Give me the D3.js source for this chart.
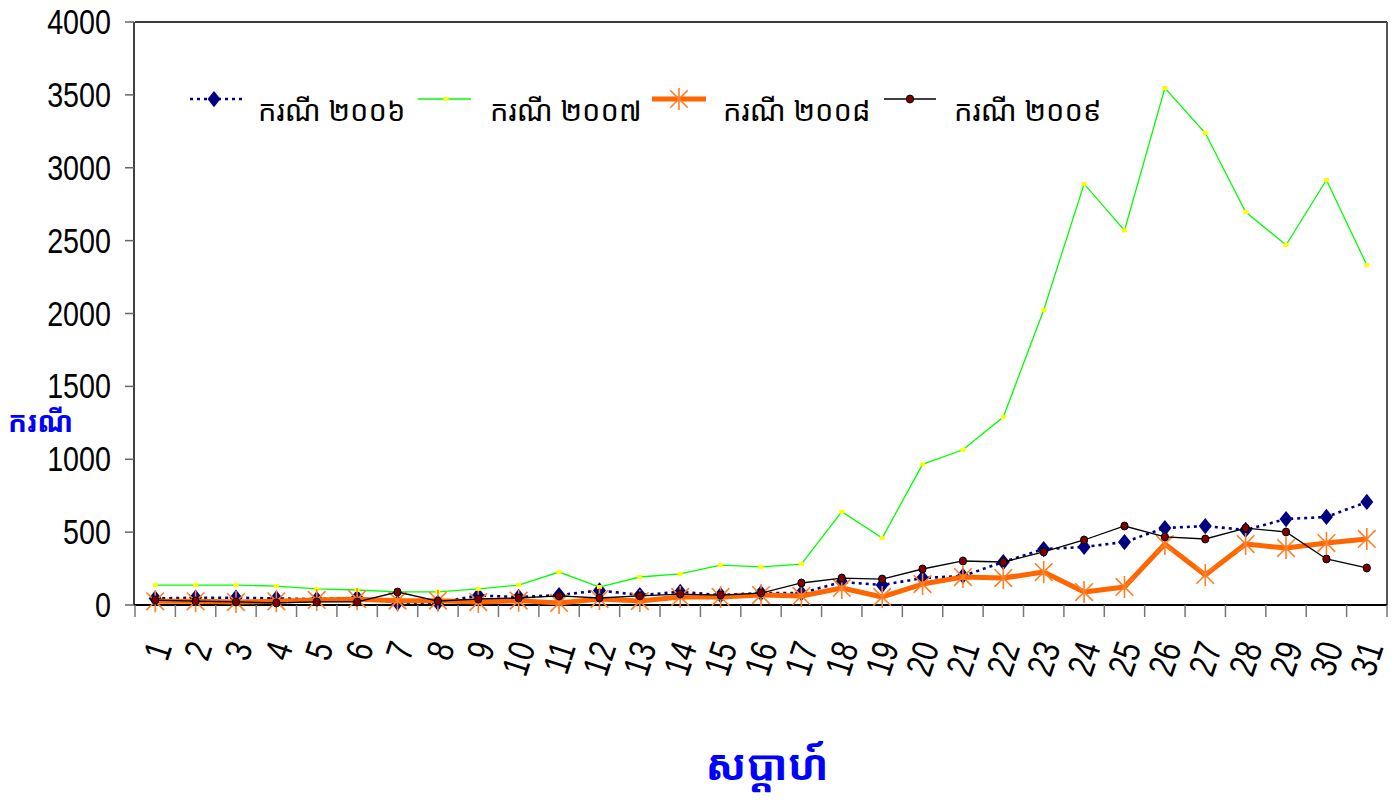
<!DOCTYPE html>
<html>
<head>
<meta charset="utf-8">
<script src="https://cdn.jsdelivr.net/npm/d3@7"></script>
<style>
  html, body { margin: 0; padding: 0; background: #fff; }
  svg { display: block; }
</style>
</head>
<body>
<svg id="chart" width="1396" height="803"></svg>
<script>
// ---- data ----
const weeks = ["1","2","3","4","5","6","7","8","9","10","11","12","13","14","15","16","17","18","19","20","21","22","23","24","25","26","27","28","29","30","31"];
const yTicks = [0,500,1000,1500,2000,2500,3000,3500,4000];
const seriesNames = ["ករណី ២០០៦","ករណី ២០០៧","ករណី ២០០៨","ករណី ២០០៩"];
const cases2006 = [45,50,50,45,40,50,15,15,65,55,68,100,68,90,68,82,82,158,137,185,199,295,384,398,432,528,542,515,590,604,707];
const cases2007 = [137,137,137,130,110,103,90,90,110,137,226,123,192,213,274,261,281,640,460,965,1065,1290,2024,2889,2570,3547,3238,2696,2470,2916,2333];
const cases2008 = [25,25,20,25,35,40,30,30,20,30,14,41,27,55,55,68,62,117,55,144,192,185,226,89,124,418,206,418,391,425,453];
const cases2009 = [34,27,21,14,21,21,89,27,41,48,62,48,62,75,68,82,151,185,178,247,302,295,364,446,542,467,453,528,501,316,254];
const yTitle = "ករណី";
const xTitle = "សប្តាហ៍";

const svg = d3.select("#chart");
const L = 135, R = 1387, T = 22, B = 605;
const x = d3.scaleBand().domain(weeks).range([L, R]).padding(0);
const y = d3.scaleLinear().domain([0, 4000]).range([B, T]);
const cx = d => x(d) + x.bandwidth() / 2;
const khmer = "'Khmer OS', 'Noto Sans Khmer', 'Khmer OS System', 'DejaVu Sans', sans-serif";

// frame: top & right
svg.append("line").attr("x1", L).attr("x2", R).attr("y1", T).attr("y2", T)
  .attr("stroke", "#3c3c3c").attr("stroke-width", 2);
svg.append("line").attr("x1", R).attr("x2", R).attr("y1", T).attr("y2", B)
  .attr("stroke", "#555").attr("stroke-width", 2);

// y axis
svg.append("line").attr("x1", L - 1).attr("x2", L - 1).attr("y1", T).attr("y2", B)
  .attr("stroke", "#000").attr("stroke-width", 1.5);
const yg = svg.append("g");
yTicks.forEach(t => {
  yg.append("line").attr("x1", L - 10).attr("x2", L - 1).attr("y1", y(t)).attr("y2", y(t))
    .attr("stroke", "#666").attr("stroke-width", 1.5);
  yg.append("text")
    .attr("transform", `translate(111,${y(t)}) scale(0.82,1)`)
    .attr("text-anchor", "end").attr("dominant-baseline", "central")
    .attr("font-family", "'Liberation Sans', Arial, sans-serif").attr("font-size", 35)
    .attr("fill", "#000").text(t);
});

// x axis
svg.append("line").attr("x1", L - 1).attr("x2", R).attr("y1", B).attr("y2", B)
  .attr("stroke", "#000").attr("stroke-width", 2);
const xg = svg.append("g");
const bounds = weeks.map(w => x(w)).concat([R]);
bounds.forEach(b => {
  xg.append("line").attr("x1", b).attr("x2", b).attr("y1", B).attr("y2", B + 12)
    .attr("stroke", "#777").attr("stroke-width", 1.5);
});
weeks.forEach(w => {
  xg.append("text")
    .attr("transform", `translate(${cx(w) + 5},643) rotate(-72) scale(0.8,1)`)
    .attr("text-anchor", "end").attr("dominant-baseline", "central")
    .attr("font-family", "'Liberation Sans', Arial, sans-serif").attr("font-size", 37)
    .attr("fill", "#000").text(w);
});

// axis titles
svg.append("text").attr("x", 8).attr("y", 432)
  .attr("font-family", khmer).attr("font-size", 28).attr("font-weight", "bold")
  .attr("fill", "#0000ff").text(yTitle);
svg.append("text").attr("x", 767).attr("y", 780).attr("text-anchor", "middle")
  .attr("font-family", khmer).attr("font-size", 42).attr("font-weight", "bold")
  .attr("fill", "#0000ff").text(xTitle);

// marker helpers
function diamond(g, px, py, s) {
  g.append("path").attr("d", `M${px},${py - s * 1.25}L${px + s},${py}L${px},${py + s * 1.25}L${px - s},${py}Z`)
    .attr("fill", "#000080");
}
function square(g, px, py) {
  g.append("rect").attr("x", px - 2.5).attr("y", py - 2).attr("width", 5).attr("height", 4)
    .attr("fill", "#ffff00");
}
function star(g, px, py, s) {
  const a = s * 0.8;
  g.append("path").attr("d", `M${px},${py - s}L${px},${py + s}M${px - a},${py - a}L${px + a},${py + a}M${px - a},${py + a}L${px + a},${py - a}`)
    .attr("stroke", "#ff7f27").attr("stroke-width", 1.6).attr("fill", "none");
}
function dot(g, px, py) {
  g.append("ellipse").attr("cx", px).attr("cy", py).attr("rx", 3.6).attr("ry", 4)
    .attr("fill", "#800000").attr("stroke", "#000").attr("stroke-width", 1);
}

const line = d3.line().x((d, i) => cx(weeks[i])).y(d => y(d));

// 2006
const g6 = svg.append("g");
g6.append("path").attr("d", line(cases2006)).attr("fill", "none")
  .attr("stroke", "#000080").attr("stroke-width", 2.6).attr("stroke-dasharray", "3,4");
cases2006.forEach((v, i) => diamond(g6, cx(weeks[i]), y(v), 6.5));

// 2007
const g7 = svg.append("g");
g7.append("path").attr("d", line(cases2007)).attr("fill", "none")
  .attr("stroke", "#00ff00").attr("stroke-width", 1.3);
cases2007.forEach((v, i) => square(g7, cx(weeks[i]), y(v)));

// 2008
const g8 = svg.append("g");
g8.append("path").attr("d", line(cases2008)).attr("fill", "none")
  .attr("stroke", "#ff6600").attr("stroke-width", 5).attr("stroke-linejoin", "round");
cases2008.forEach((v, i) => star(g8, cx(weeks[i]), y(v), 11));

// 2009
const g9 = svg.append("g");
g9.append("path").attr("d", line(cases2009)).attr("fill", "none")
  .attr("stroke", "#000").attr("stroke-width", 1.3);
cases2009.forEach((v, i) => dot(g9, cx(weeks[i]), y(v)));

// legend
const lg = svg.append("g");
const ly = 99;
const legendItems = [
  {x1: 190, x2: 242, m: 214, tx: 258},
  {x1: 418, x2: 471, m: 446, tx: 490},
  {x1: 652, x2: 706, m: 679, tx: 723},
  {x1: 884, x2: 936, m: 910, tx: 954}
];
legendItems.forEach((it, i) => {
  if (i === 0) {
    lg.append("line").attr("x1", it.x1).attr("x2", it.x2).attr("y1", ly).attr("y2", ly)
      .attr("stroke", "#000080").attr("stroke-width", 2.6).attr("stroke-dasharray", "3,4");
    diamond(lg, it.m, ly, 6.5);
  } else if (i === 1) {
    lg.append("line").attr("x1", it.x1).attr("x2", it.x2).attr("y1", ly).attr("y2", ly)
      .attr("stroke", "#00ff00").attr("stroke-width", 1.3);
    square(lg, it.m, ly);
  } else if (i === 2) {
    lg.append("line").attr("x1", it.x1).attr("x2", it.x2).attr("y1", ly).attr("y2", ly)
      .attr("stroke", "#ff6600").attr("stroke-width", 5);
    star(lg, it.m, ly, 11);
  } else {
    lg.append("line").attr("x1", it.x1).attr("x2", it.x2).attr("y1", ly).attr("y2", ly)
      .attr("stroke", "#000").attr("stroke-width", 1.3);
    dot(lg, it.m, ly);
  }
  lg.append("text").attr("x", it.tx).attr("y", 121)
    .attr("font-family", khmer).attr("font-size", 29).attr("fill", "#000")
    .text(seriesNames[i]);
});
</script>
</body>
</html>
